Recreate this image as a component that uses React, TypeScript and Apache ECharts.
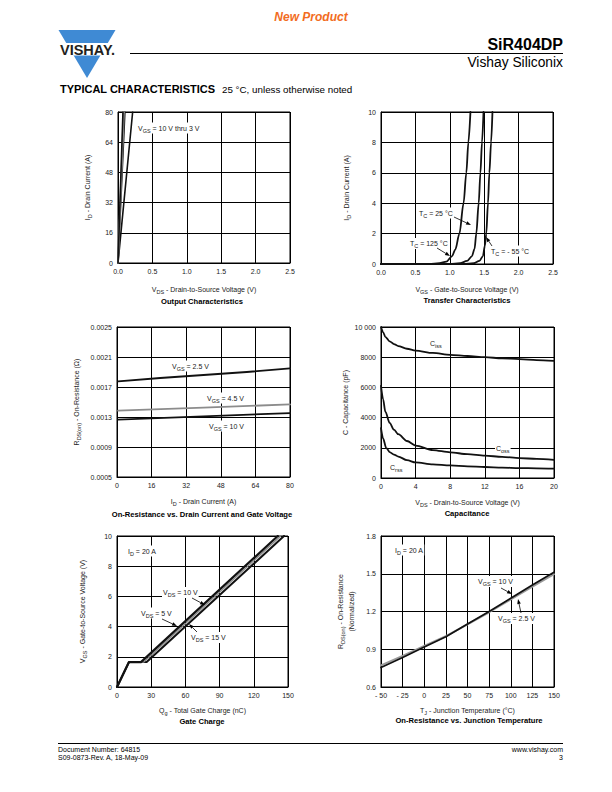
import React, { useEffect, useRef } from "react";
import * as echarts from "echarts";

const FONT = "'Liberation Sans', Arial, Helvetica, sans-serif";
const INK = "#111111";
const GREY = "#8c8c8c";
const TXT = "#222222";

// ---------- 1. Output characteristics ----------
const outXTicks = [0, 0.5, 1.0, 1.5, 2.0, 2.5];
const outXLabels = ["0.0", "0.5", "1.0", "1.5", "2.0", "2.5"];
const outYTicks = [0, 16, 32, 48, 64, 80];
const outYLabels = ["0", "16", "32", "48", "64", "80"];
const outCurveA = [[0, 0], [0.072, 80]];
const outCurveB = [[0, 0], [0.08, 80]];
const outCurveC = [[0, 0], [0.088, 80]];
const outCurveD = [[0, 0], [0.1, 80]];
const outCurveE = [[0, 0], [0.213, 80]];

// ---------- 2. Transfer characteristics ----------
const trXTicks = [0, 0.5, 1.0, 1.5, 2.0, 2.5];
const trXLabels = ["0.0", "0.5", "1.0", "1.5", "2.0", "2.5"];
const trYTicks = [0, 2, 4, 6, 8, 10];
const trYLabels = ["0", "2", "4", "6", "8", "10"];
const tr125 = [[0, 0], [0.7, 0.01], [0.85, 0.05], [0.95, 0.15], [1.03, 0.5], [1.08, 0.95], [1.14, 2], [1.2, 4], [1.24, 6], [1.27, 8], [1.3, 10]];
const tr25 = [[0, 0], [1.0, 0.01], [1.15, 0.05], [1.25, 0.2], [1.32, 0.5], [1.36, 1], [1.385, 2], [1.42, 4], [1.445, 6], [1.468, 8], [1.49, 10]];
const trM55 = [[0, 0], [1.2, 0.01], [1.35, 0.05], [1.43, 0.2], [1.48, 0.5], [1.51, 1.2], [1.53, 2], [1.555, 4], [1.575, 6], [1.6, 8], [1.62, 10]];

// ---------- 3. On-resistance vs drain current ----------
const rdsXTicks = [0, 16, 32, 48, 64, 80];
const rdsXLabels = ["0", "16", "32", "48", "64", "80"];
const rdsYTicks = [0.0005, 0.0009, 0.0013, 0.0017, 0.0021, 0.0025];
const rdsYLabels = ["0.0005", "0.0009", "0.0013", "0.0017", "0.0021", "0.0025"];
const rdsVgs25 = [[0.5, 0.001775], [20, 0.00182], [40, 0.00186], [60, 0.0019], [80, 0.001948]];
const rdsVgs45 = [[0.5, 0.001384], [40, 0.001425], [80, 0.001468]];
const rdsVgs10 = [[0.5, 0.001264], [40, 0.001308], [80, 0.001353]];

// ---------- 4. Capacitance ----------
const capXTicks = [0, 4, 8, 12, 16, 20];
const capXLabels = ["0", "4", "8", "12", "16", "20"];
const capYTicks = [0, 2000, 4000, 6000, 8000, 10000];
const capYLabels = ["0", "2000", "4000", "6000", "8000", "10 000"];
const ciss = [[0, 10000], [0.25, 9650], [0.5, 9350], [1, 9050], [1.5, 8870], [2, 8740], [3, 8560], [4, 8440], [6, 8280], [8, 8160], [10, 8080], [12, 8000], [14, 7930], [16, 7870], [18, 7810], [20, 7760]];
const coss = [[0, 6100], [0.25, 5200], [0.5, 4400], [1, 3650], [1.5, 3200], [2, 2900], [3, 2450], [4, 2150], [6, 1850], [8, 1700], [10, 1580], [12, 1480], [14, 1400], [16, 1320], [18, 1260], [20, 1200]];
const crss = [[0, 3300], [0.25, 2600], [0.6, 2000], [1, 1720], [1.5, 1550], [2, 1420], [3, 1180], [4, 1030], [6, 900], [8, 830], [10, 770], [12, 730], [14, 690], [16, 660], [18, 640], [20, 620]];

// ---------- 5. Gate charge ----------
const gcXTicks = [0, 30, 60, 90, 120, 150];
const gcXLabels = ["0", "30", "60", "90", "120", "150"];
const gcYTicks = [0, 2, 4, 6, 8, 10];
const gcYLabels = ["0", "2", "4", "6", "8", "10"];
const gcVds5 = [[0, 0], [10.5, 1.65], [21, 1.65], [141, 10]];
const gcVds10 = [[0, 0], [10.5, 1.65], [23.5, 1.65], [143.5, 10]];
const gcVds15 = [[0, 0], [10.5, 1.65], [26, 1.65], [146.5, 10]];

// ---------- 6. On-resistance vs junction temperature ----------
const tjXTicks = [-50, -25, 0, 25, 50, 75, 100, 125, 150];
const tjXLabels = ["- 50", "- 25", "0", "25", "50", "75", "100", "125", "150"];
const tjYTicks = [0.6, 0.9, 1.2, 1.5, 1.8];
const tjYLabels = ["0.6", "0.9", "1.2", "1.5", "1.8"];
const tjVgs10 = [[-50, 0.755], [-25, 0.835], [0, 0.918], [25, 1.0], [50, 1.1], [75, 1.2], [100, 1.305], [125, 1.41], [150, 1.512]];
const tjVgs25 = [[-50, 0.772], [-25, 0.848], [0, 0.926], [25, 1.004], [50, 1.098], [75, 1.194], [100, 1.296], [125, 1.398], [150, 1.496]];

const RDS_BASE = rdsYTicks[0];

const AXIS_RICH = {
  s: { fontSize: 5.5, lineHeight: 5, verticalAlign: "bottom", fontFamily: FONT, color: TXT },
};
const G_RICH = {
  s: { fontSize: 5.5, lineHeight: 5, verticalAlign: "bottom", fontFamily: FONT, fill: TXT },
};

const fmt = (ticks: number[], labels: string[], offset = 0) => (v: number) => {
  const step = Math.abs(ticks[1] - ticks[0]);
  for (let i = 0; i < ticks.length; i++) {
    if (Math.abs(ticks[i] - offset - v) < step * 1e-3) return labels[i];
  }
  return "";
};

function axis(gi: number, ticks: number[], labels: string[], name: string, gap: number, offset = 0) {
  return {
    type: "value",
    gridIndex: gi,
    min: ticks[0] - offset,
    max: ticks[ticks.length - 1] - offset,
    interval: ticks[1] - ticks[0],
    name,
    nameLocation: "middle",
    nameGap: gap,
    nameTextStyle: { fontSize: 7, lineHeight: 11, color: TXT, fontFamily: FONT, rich: AXIS_RICH },
    axisLine: { show: true, onZero: false, lineStyle: { color: "#000", width: 1 } },
    axisTick: { show: false },
    axisLabel: {
      fontSize: 7,
      color: TXT,
      fontFamily: FONT,
      margin: 5,
      showMinLabel: true,
      showMaxLabel: true,
      formatter: fmt(ticks, labels, offset),
    },
    splitLine: { show: true, lineStyle: { color: "#000", width: 1 } },
  };
}

function line(gi: number, data: number[][], color: string, width: number, smooth = false) {
  return {
    type: "line",
    xAxisIndex: gi,
    yAxisIndex: gi,
    data,
    symbol: "none",
    showSymbol: false,
    smooth: smooth ? 0.3 : false,
    smoothMonotone: "x",
    silent: true,
    lineStyle: { color, width, join: "round", cap: "round" },
    z: 3,
  };
}

function label(x: number, y: number, text: string, extra: any = {}) {
  return {
    type: "text",
    x,
    y,
    z: 100,
    silent: true,
    style: {
      text,
      fontSize: 7,
      lineHeight: 11,
      fontFamily: FONT,
      fill: TXT,
      align: "left",
      verticalAlign: "middle",
      rich: G_RICH,
      ...extra,
    },
  };
}

function plotLabel(x: number, y: number, text: string) {
  return label(x, y, text, { backgroundColor: "#ffffff", padding: [0, 1] });
}

function arrow(x1: number, y1: number, x2: number, y2: number) {
  const a = Math.atan2(y2 - y1, x2 - x1);
  const L = 5;
  const W = 1.8;
  const bx = x2 - L * Math.cos(a);
  const by = y2 - L * Math.sin(a);
  const px = -Math.sin(a) * W;
  const py = Math.cos(a) * W;
  return [
    { type: "line", z: 101, silent: true, shape: { x1, y1, x2: bx, y2: by }, style: { stroke: "#000", lineWidth: 0.8 } },
    { type: "polygon", z: 101, silent: true, shape: { points: [[x2, y2], [bx + px, by + py], [bx - px, by - py]] }, style: { fill: "#000" } },
  ];
}

function title(x: number, y: number, text: string) {
  return label(x, y, text, { align: "center", fontSize: 7.6, fontWeight: "bold", fill: "#000" });
}

function buildOption() {
  const grids = [
    { left: 118, top: 112, width: 172, height: 151 },
    { left: 381, top: 112, width: 172, height: 152 },
    { left: 117, top: 327, width: 173, height: 150 },
    { left: 381, top: 327, width: 173, height: 151 },
    { left: 117, top: 536, width: 171, height: 151 },
    { left: 381, top: 536, width: 173, height: 151 },
  ].map((g) => ({ ...g, show: true, borderColor: "#000", borderWidth: 1, backgroundColor: "transparent", containLabel: false, outerBoundsMode: "none" }));

  const xAxes = [
    axis(0, outXTicks, outXLabels, "V{s|DS} - Drain-to-Source Voltage (V)", 20.5),
    axis(1, trXTicks, trXLabels, "V{s|GS} - Gate-to-Source Voltage (V)", 20),
    axis(2, rdsXTicks, rdsXLabels, "I{s|D} - Drain Current (A)", 19),
    axis(3, capXTicks, capXLabels, "V{s|DS} - Drain-to-Source Voltage (V)", 18.5),
    axis(4, gcXTicks, gcXLabels, "Q{s|g} - Total Gate Charge (nC)", 18),
    axis(5, tjXTicks, tjXLabels, "T{s|J} - Junction Temperature (°C)", 18),
  ];
  const yAxes = [
    axis(0, outYTicks, outYLabels, "I{s|D} - Drain Current (A)", 25),
    axis(1, trYTicks, trYLabels, "I{s|D} - Drain Current (A)", 29),
    axis(2, rdsYTicks, rdsYLabels, "R{s|DS(on)} - On-Resistance (Ω)", 35, RDS_BASE),
    axis(3, capYTicks, capYLabels, "C - Capacitance (pF)", 29),
    axis(4, gcYTicks, gcYLabels, "V{s|GS} - Gate-to-Source Voltage (V)", 29),
    axis(5, tjYTicks, tjYLabels, "R{s|DS(on)} - On-Resistance\n(Normalized)", 24),
  ];

  const shift = (d: number[][]) => d.map(([x, y]) => [x, y - RDS_BASE]);

  const series = [
    line(0, outCurveE, INK, 1.6),
    line(0, outCurveD, INK, 1.6),
    line(0, outCurveC, GREY, 1.6),
    line(0, outCurveB, GREY, 1.6),
    line(0, outCurveA, INK, 1.6),

    line(1, tr125, INK, 1.8, true),
    line(1, tr25, INK, 1.8, true),
    line(1, trM55, INK, 1.8, true),

    line(2, shift(rdsVgs25), INK, 1.8),
    line(2, shift(rdsVgs45), GREY, 1.8),
    line(2, shift(rdsVgs10), INK, 1.8),

    line(3, ciss, INK, 1.8, true),
    line(3, coss, INK, 1.8, true),
    line(3, crss, INK, 1.8, true),

    line(4, gcVds15, INK, 2),
    line(4, gcVds10, GREY, 1.4),
    line(4, gcVds5, INK, 2.2),

    line(5, tjVgs25, "#9a9a9a", 2),
    line(5, tjVgs10, INK, 1.7),
  ];

  const graphic: any[] = [
    // header
    { type: "text", x: 311, y: 17, z: 100, style: { text: "New Product", fontSize: 12, fontWeight: "bold", fontStyle: "italic", fontFamily: FONT, fill: "#f26c22", align: "center", verticalAlign: "middle" } },
    { type: "polygon", z: 90, shape: { points: [[58.5, 30], [115.5, 30], [87, 78]] }, style: { fill: "#3f8ad4" } },
    { type: "rect", z: 91, shape: { x: 54, y: 43, width: 66, height: 12.5 }, style: { fill: "#ffffff" } },
    { type: "text", x: 87.5, y: 49.5, z: 92, style: { text: "VISHAY.", fontSize: 14.5, fontWeight: "bold", fontFamily: FONT, fill: "#231f20", align: "center", verticalAlign: "middle" } },
    { type: "line", z: 90, shape: { x1: 130, y1: 53.5, x2: 563, y2: 53.5 }, style: { stroke: "#000", lineWidth: 1.2 } },
    { type: "text", x: 563, y: 44, z: 100, style: { text: "SiR404DP", fontSize: 16, fontWeight: "bold", fontFamily: FONT, fill: "#000", align: "right", verticalAlign: "middle" } },
    { type: "text", x: 563, y: 62.5, z: 100, style: { text: "Vishay Siliconix", fontSize: 13.8, fontFamily: FONT, fill: "#000", align: "right", verticalAlign: "middle" } },
    { type: "text", x: 60, y: 89, z: 100, style: { text: "TYPICAL CHARACTERISTICS", fontSize: 11, fontWeight: 900, fontFamily: FONT, fill: "#000", align: "left", verticalAlign: "middle" } },
    { type: "text", x: 222, y: 89.5, z: 100, style: { text: "25 °C, unless otherwise noted", fontSize: 9.8, fontFamily: FONT, fill: "#000", align: "left", verticalAlign: "middle" } },

    // footer
    { type: "line", z: 90, shape: { x1: 58, y1: 743.5, x2: 563, y2: 743.5 }, style: { stroke: "#000", lineWidth: 1 } },
    { type: "text", x: 58, y: 749, z: 100, style: { text: "Document Number: 64815", fontSize: 7, fontFamily: FONT, fill: "#000", align: "left", verticalAlign: "middle" } },
    { type: "text", x: 58, y: 757.5, z: 100, style: { text: "S09-0873-Rev. A, 18-May-09", fontSize: 7, fontFamily: FONT, fill: "#000", align: "left", verticalAlign: "middle" } },
    { type: "text", x: 563, y: 749, z: 100, style: { text: "www.vishay.com", fontSize: 7, fontFamily: FONT, fill: "#000", align: "right", verticalAlign: "middle" } },
    { type: "text", x: 563, y: 757.5, z: 100, style: { text: "3", fontSize: 7, fontFamily: FONT, fill: "#000", align: "right", verticalAlign: "middle" } },

    // titles
    title(202, 301, "Output Characteristics"),
    title(467, 300.5, "Transfer Characteristics"),
    title(202, 514, "On-Resistance vs. Drain Current and Gate Voltage"),
    title(467, 513.5, "Capacitance"),
    title(202, 721.5, "Gate Charge"),
    title(469, 720.5, "On-Resistance vs. Junction Temperature"),

    // annotations chart 1
    plotLabel(137, 128, "V{s|GS} = 10 V thru 3 V"),
    // chart 2
    plotLabel(418, 213, "T{s|C} = 25 °C"),
    ...arrow(454, 217, 471, 225),
    plotLabel(409, 243.5, "T{s|C} = 125 °C"),
    ...arrow(437, 248, 450, 256),
    plotLabel(490, 251, "T{s|C} = - 55 °C"),
    ...arrow(492, 246, 486, 237),
    // chart 3
    plotLabel(171, 366, "V{s|GS} = 2.5 V"),
    plotLabel(206, 398, "V{s|GS} = 4.5 V"),
    plotLabel(208, 426, "V{s|GS} = 10 V"),
    // chart 4
    plotLabel(429, 343, "C{s|iss}"),
    plotLabel(495, 448, "C{s|oss}"),
    plotLabel(389, 467, "C{s|rss}"),
    // chart 5
    plotLabel(127, 551, "I{s|D} = 20 A"),
    plotLabel(162, 592.5, "V{s|DS} = 10 V"),
    ...arrow(192, 598, 205, 605),
    plotLabel(140, 613, "V{s|DS} = 5 V"),
    ...arrow(162, 619, 177, 626),
    plotLabel(190, 637.5, "V{s|DS} = 15 V"),
    ...arrow(197, 632, 189, 624),
    // chart 6
    plotLabel(394, 550, "I{s|D} = 20 A"),
    plotLabel(477, 581.5, "V{s|GS} = 10 V"),
    ...arrow(501, 588, 512, 594),
    plotLabel(497, 618.5, "V{s|GS} = 2.5 V"),
    ...arrow(521, 613, 518, 599),
  ];

  return {
    animation: false,
    backgroundColor: "#ffffff",
    textStyle: { fontFamily: FONT },
    grid: grids,
    xAxis: xAxes,
    yAxis: yAxes,
    series,
    graphic,
  };
}

export default function App() {
  const ref = useRef<HTMLDivElement>(null);
  useEffect(() => {
    if (!ref.current) return;
    const chart = echarts.init(ref.current, null, { renderer: "svg", width: 612, height: 792 });
    chart.setOption(buildOption() as any);
    return () => chart.dispose();
  }, []);
  return (
    <div
      ref={ref}
      style={{ position: "fixed", left: 0, top: 0, width: 612, height: 792, background: "#ffffff" }}
    />
  );
}
